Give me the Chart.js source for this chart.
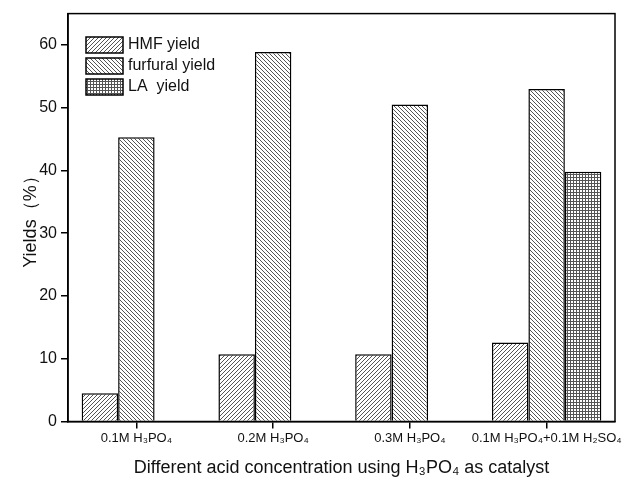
<!DOCTYPE html>
<html>
<head>
<meta charset="utf-8">
<script src="https://cdn.jsdelivr.net/npm/chart.js@4.4.0/dist/chart.umd.min.js"></script>
<style>
    body { margin: 0; background: #fff; }
    canvas { display: block; }
</style>
</head>
<body>
<canvas id="chart-yields" width="641" height="489"></canvas>
<script>
const categories = ['0.1M H₃PO₄', '0.2M H₃PO₄', '0.3M H₃PO₄', '0.1M H₃PO₄+0.1M H₂SO₄'];
const seriesNames = ['HMF yield', 'furfural yield', 'LA  yield'];
const hmfYield = [4.5, 10.7, 10.7, 12.6];
const furfuralYield = [45.3, 58.9, 50.5, 53.0];
const laYield = [null, null, null, 39.8];
const yTickValues = [0, 10, 20, 30, 40, 50, 60];
const yMax = 65;

function makePattern(kind) {
    let tile = document.createElement('canvas');
    let size = kind === 'grid' ? 3 : 4;
    tile.width = size;
    tile.height = size;
    let c = tile.getContext('2d');
    c.fillStyle = '#fff';
    c.fillRect(0, 0, size, size);
    c.strokeStyle = '#555';
    c.lineWidth = 1;
    c.beginPath();
    if (kind === 'forward') {
        c.moveTo(0, size);
        c.lineTo(size, 0);
        c.moveTo(-1, 1);
        c.lineTo(1, -1);
        c.moveTo(size - 1, size + 1);
        c.lineTo(size + 1, size - 1);
    } else if (kind === 'back') {
        c.moveTo(0, 0);
        c.lineTo(size, size);
        c.moveTo(size - 1, -1);
        c.lineTo(size + 1, 1);
        c.moveTo(-1, size - 1);
        c.lineTo(1, size + 1);
    } else {
        c.moveTo(0, 0.5);
        c.lineTo(size, 0.5);
        c.moveTo(0.5, 0);
        c.lineTo(0.5, size);
    }
    c.stroke();
    return c.createPattern(tile, 'repeat');
}

const patterns = [makePattern('forward'), makePattern('back'), makePattern('grid')];

const frameAndLegend = {
    id: 'frameAndLegend',
    afterDraw(chart) {
        let ctx = chart.ctx;
        let area = chart.chartArea;
        ctx.save();
        ctx.strokeStyle = '#000';
        ctx.lineWidth = 1.5;
        ctx.strokeRect(area.left, area.top, area.right - area.left, area.bottom - area.top);

        ctx.font = '16px "Liberation Sans", Arial, sans-serif';
        ctx.textBaseline = 'middle';
        seriesNames.forEach((name, i) => {
            let y = 37 + i * 21;
            ctx.fillStyle = patterns[i];
            ctx.fillRect(86, y, 37, 16);
            ctx.strokeRect(86, y, 37, 16);
            ctx.fillStyle = '#111';
            ctx.fillText(name, 128, y + 8);
        });
        ctx.restore();
    },
};

new Chart(document.getElementById('chart-yields'), {
    type: 'bar',
    data: {
        labels: categories,
        datasets: [
            { label: seriesNames[0], data: hmfYield, backgroundColor: patterns[0] },
            { label: seriesNames[1], data: furfuralYield, backgroundColor: patterns[1] },
            { label: seriesNames[2], data: laYield, backgroundColor: patterns[2] },
        ].map(ds => Object.assign(ds, {
            borderColor: '#000',
            borderWidth: 1.5,
            barPercentage: 1.0,
            categoryPercentage: 0.8,
        })),
    },
    options: {
        responsive: false,
        animation: false,
        layout: {
            padding: { top: 13, right: 26, left: 0, bottom: 0 },
        },
        plugins: {
            legend: { display: false },
            tooltip: { enabled: false },
        },
        scales: {
            x: {
                offset: true,
                grid: {
                    offset: false,
                    drawOnChartArea: false,
                    color: '#000',
                    lineWidth: 1.5,
                    tickLength: 7,
                },
                border: { color: '#000', width: 1.5 },
                ticks: {
                    autoSkip: false,
                    color: '#111',
                    font: { family: '"Liberation Sans Narrow", "Liberation Sans", Arial, sans-serif', size: 13 },
                    maxRotation: 0,
                    padding: 2,
                },
                title: {
                    display: true,
                    text: 'Different acid concentration using H₃PO₄ as catalyst',
                    color: '#111',
                    font: { family: '"Liberation Sans", Arial, sans-serif', size: 18 },
                    padding: { top: 4, bottom: 10 },
                },
                afterFit(scale) {
                    scale.height = 67.5;
                },
            },
            y: {
                min: 0,
                max: yMax,
                afterBuildTicks(scale) {
                    scale.ticks = yTickValues.map(v => ({ value: v }));
                },
                grid: {
                    drawOnChartArea: false,
                    color: '#000',
                    lineWidth: 1.5,
                    tickLength: 7,
                },
                border: { color: '#000', width: 1.5 },
                ticks: {
                    color: '#111',
                    font: { family: '"Liberation Sans", Arial, sans-serif', size: 16 },
                    padding: 4,
                },
                title: {
                    display: true,
                    text: 'Yields（%）',
                    color: '#111',
                    font: { family: '"Liberation Sans", Arial, sans-serif', size: 18 },
                    padding: { top: 20, bottom: 4 },
                },
                afterFit(scale) {
                    scale.width = 68;
                },
            },
        },
    },
    plugins: [frameAndLegend],
});
</script>
</body>
</html>
